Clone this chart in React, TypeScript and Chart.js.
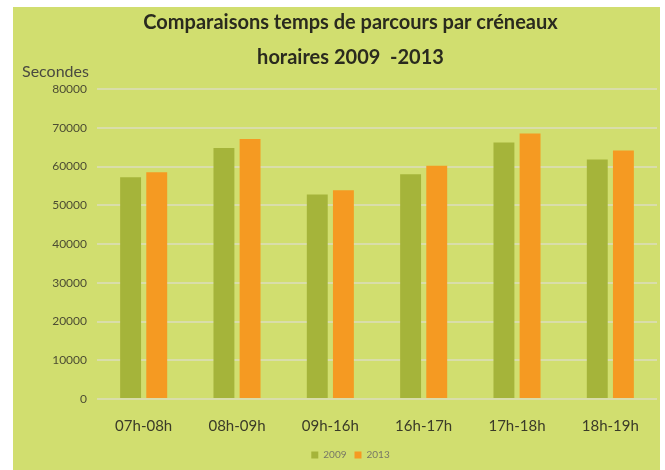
import React, { useEffect, useRef } from "react";
import { Chart, registerables } from "chart.js";

Chart.register(...registerables);

const categories = ["07h-08h", "08h-09h", "09h-16h", "16h-17h", "17h-18h", "18h-19h"];
const values2009 = [57200, 64800, 52800, 58000, 66200, 61800];
const values2013 = [58500, 67100, 53900, 60200, 68500, 64100];
const seriesLabels = ["2009", "2013"];
const titleLines = ["Comparaisons temps de parcours par créneaux", "horaires 2009  -2013"];
const yAxisLabel = "Secondes";

const GREEN_BG = "#d1de6f";
const BAR_GREEN = "#a5b43a";
const BAR_ORANGE = "#f59a22";

export default function App() {
  const ref = useRef<HTMLCanvasElement | null>(null);

  useEffect(() => {
    if (!ref.current) return;
    const yLabelPlugin = {
      id: "yLabel",
      afterDraw(chart: any) {
        const { ctx, chartArea } = chart;
        ctx.save();
        ctx.font = "16px Lato";
        ctx.fillStyle = "#4a4a40";
        ctx.textAlign = "left";
        ctx.textBaseline = "middle";
        ctx.fillText(yAxisLabel, 9, chartArea.top - 17);
        ctx.restore();
      },
    };
    const chart = new Chart(ref.current, {
      type: "bar",
      data: {
        labels: categories,
        datasets: [
          { label: seriesLabels[0], data: values2009, backgroundColor: BAR_GREEN },
          { label: seriesLabels[1], data: values2013, backgroundColor: BAR_ORANGE },
        ],
      },
      plugins: [yLabelPlugin],
      options: {
        animation: false,
        responsive: false,
        maintainAspectRatio: false,
        layout: { padding: { left: 31, right: 3, top: 0, bottom: 0 } },
        datasets: { bar: { categoryPercentage: 0.56, barPercentage: 0.8 } },
        plugins: {
          title: {
            display: true,
            text: titleLines,
            color: "#2a2a1e",
            font: { family: "Lato", size: 20, weight: "bold", lineHeight: 1.75 },
            padding: { top: -2, bottom: 14 },
          },
          legend: {
            position: "bottom",
            labels: {
              boxWidth: 7,
              boxHeight: 7,
              padding: 8,
              color: "#777766",
              font: { family: "Lato", size: 10 },
            },
          },
          tooltip: { enabled: false },
        },
        scales: {
          x: {
            grid: { display: false, drawTicks: false },
            border: { display: false },
            ticks: {
              color: "#3a3a28",
              padding: 18,
              font: { family: "Lato", size: 15 },
            },
            afterFit: (scale: any) => {
              scale.height = 43;
            },
          },
          y: {
            min: 0,
            max: 80000,
            ticks: {
              stepSize: 10000,
              color: "#4d4d33",
              padding: 10,
              font: { family: "Lato", size: 12 },
              callback: (v: any) => String(v),
            },
            grid: { color: "#d9ddaa", lineWidth: 2, drawTicks: false },
            border: { display: false },
            afterFit: (scale: any) => {
              scale.width = 53;
            },
          },
        },
      },
    });
    return () => chart.destroy();
  }, []);

  return (
    <div style={{ position: "fixed", left: 0, top: 0, width: 665, height: 470, background: "#ffffff" }}>
      <div style={{ position: "absolute", left: 13, top: 7, width: 647, height: 463, background: GREEN_BG }}>
        <canvas ref={ref} width={647} height={463} style={{ display: "block" }} />
      </div>
    </div>
  );
}
